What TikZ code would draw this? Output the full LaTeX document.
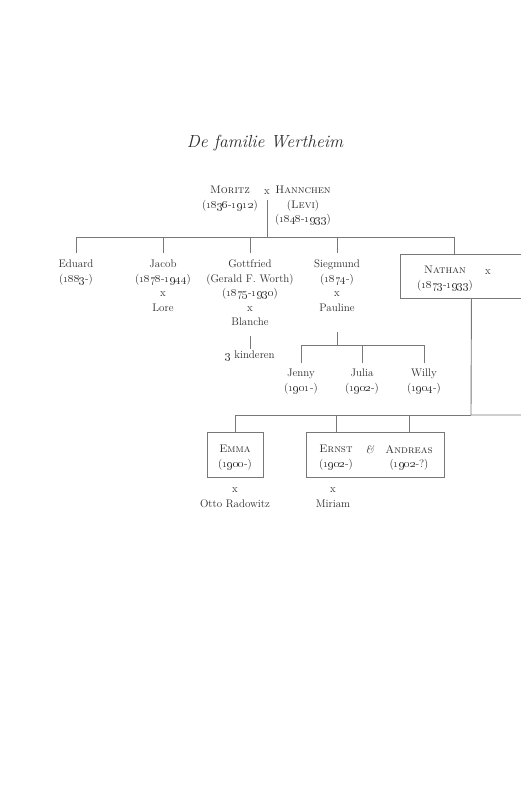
\documentclass[tikz,border=0pt]{standalone}
\usepackage{xcolor}
\usepackage{tikz}
\usetikzlibrary{positioning}
\definecolor{inkcolor}{RGB}{45,45,45}
\definecolor{linecolor}{RGB}{120,120,120}
\newcommand{\yrs}[2]{(\oldstylenums{#1}-\oldstylenums{#2})}
\newcommand{\yrfrom}[1]{(\oldstylenums{#1}-)}

\begin{document}
\begin{tikzpicture}[
    x=1pt, y=-1pt,
    every node/.style={font=\fontsize{11}{14.5}\selectfont, text=inkcolor, align=center, inner sep=0pt},
    person/.style={anchor=north},
    famline/.style={draw=linecolor, line width=0.9pt},
    famframe/.style={draw=linecolor, line width=0.9pt, rectangle},
]
    \clip (0,0) rectangle (521,800);
    \fill[white] (0,0) rectangle (521,800);

    % Title
    \node[anchor=base, font=\fontsize{17.5}{21}\selectfont\itshape] (title) at (265,147) {De familie Wertheim};

    % Parents
    \node[person] (moritz) at (230,186) {\textsc{Moritz}\\\yrs{1836}{1912}};
    \node[anchor=base] (wed) at (267,194) {x};
    \node[person] (hannchen) at (303,186) {\textsc{Hannchen}\\(\textsc{Levi})\\\yrs{1848}{1933}};
    \coordinate (bar) at (267,237);
    \draw[famline, shorten >=6pt] (bar) -- (wed);

    % Children
    \node[person] (eduard) at (76,260) {Eduard\\\yrfrom{1883}};
    \node[person] (jacob) at (163,260) {Jacob\\\yrs{1878}{1944}\\x\\Lore};
    \node[person] (gottfried) at (250,260) {Gottfried\\(Gerald F. Worth)\\\yrs{1875}{1930}\\x\\Blanche};
    \node[person] (siegmund) at (337,260) {Siegmund\\\yrfrom{1874}\\x\\Pauline};
    \node[famframe, anchor=north west, minimum width=142pt, minimum height=44pt] (nathanbox) at (400,254) {};
    \node[person] (nathan) at (445,266) {\textsc{Nathan}\\\yrs{1873}{1933}};
    \node[anchor=base] (nathanx) at (488,274) {x};

    \draw[famline, shorten <=7pt] (eduard) |- (bar);
    \draw[famline, shorten <=7pt] (jacob) |- (bar);
    \draw[famline, shorten <=7pt] (gottfried) -- (gottfried |- bar);
    \draw[famline, shorten <=7pt] (siegmund) |- (bar);
    \draw[famline] ([xshift=-17pt]nathanbox.north) |- (bar);

    % Gottfried
    \node[person] (kinderen) at (250,351) {\oldstylenums{3} kinderen};
    \draw[famline, shorten <=10pt, shorten >=2pt] (gottfried) -- (kinderen);

    % Siegmund
    \coordinate (sbar) at (337,345);
    \node[person] (jenny) at (301,369) {Jenny\\\yrfrom{1901}};
    \node[person] (julia) at (362,369) {Julia\\\yrfrom{1902}};
    \node[person] (willy) at (424,369) {Willy\\\yrfrom{1904}};
    \draw[famline, shorten <=20pt] (siegmund) -- (sbar);
    \draw[famline, shorten <=6pt] (jenny) |- (sbar);
    \draw[famline, shorten <=6pt] (julia) -- (julia |- sbar);
    \draw[famline, shorten <=6pt] (willy) |- (sbar);

    % Nathan
    \coordinate (nbar) at (471,415);
    \coordinate (nend) at (530,415);
    \draw[famline] (nathanbox.south) -- (nbar) -- (nend);

    \node[famframe, minimum width=56pt, minimum height=45pt] (emmabox) at (235,455) {};
    \node[person] (emma) at (235,445) {\textsc{Emma}\\\yrfrom{1900}};
    \node[famframe, minimum width=138pt, minimum height=45pt] (twinbox) at (375,455) {};
    \node[person] (ernst) at (336,445) {\textsc{Ernst}\\\yrfrom{1902}};
    \node[anchor=base] (amp) at (370,453) {\textit{\&}};
    \node[person] (andreas) at (409,445) {\textsc{Andreas}\\(\oldstylenums{1902}-?)};

    \draw[famline] (emmabox) |- (nbar);
    \draw[famline] (twinbox.north -| ernst) |- (nbar);
    \draw[famline] (twinbox.north -| andreas) -- (andreas |- nbar);

    % Spouses
    \node[person] (otto) at (235,488) {x\\Otto Radowitz};
    \node[person] (miriam) at (333,488) {x\\Miriam};
\end{tikzpicture}
\end{document}
